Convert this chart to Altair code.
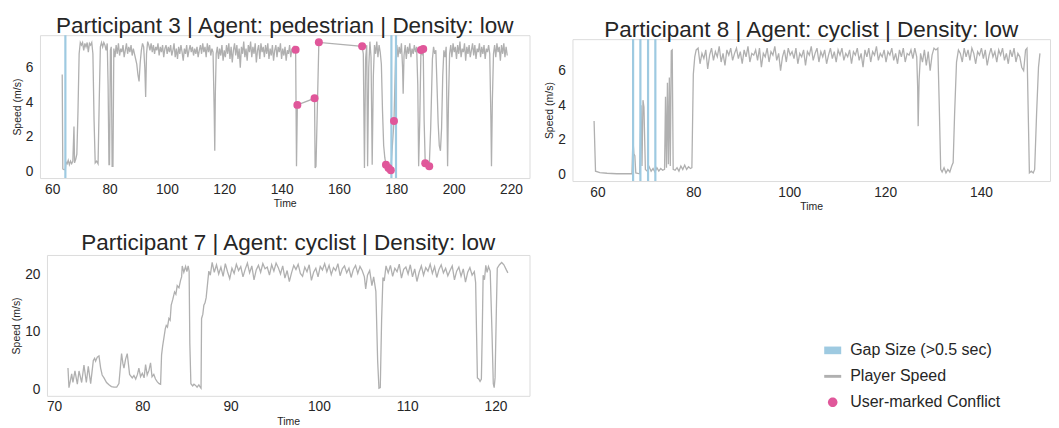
import altair as alt
import pandas as pd

FONT = "Liberation Sans"
TEXT_COLOR = "#262626"
LINE_COLOR = "#b0b0b0"
GAP_COLOR = "#9ecae1"
CONFLICT_COLOR = "#e0579a"
FRAME_COLOR = "#dcdcdc"

# ---------------- Participant 3 | pedestrian ----------------
# explicit (time, speed) samples and regularly sampled runs {t0, dt, v}
p3_pieces = [
    [(63.5, 5.6), (63.7, 0.15), (64.2, 0.1), (64.6, 0.15), (64.8, 0.55), (65.2, 0.45), (65.6, 0.65),
     (66.0, 0.4), (66.4, 0.6), (66.8, 0.45), (67.2, 0.6), (67.6, 2.6), (67.8, 0.5), (68.2, 0.7),
     (68.6, 1.0), (69.0, 3.5), (69.4, 6.8), (69.8, 7.45)],
    {"t0": 70.2, "dt": 0.4, "v": [7.3, 7.45, 7.0, 7.4, 7.2, 7.45, 6.9, 7.4, 7.3, 7.45, 6.8]},
    [(74.6, 3.0), (75.0, 0.5), (75.5, 0.6), (76.0, 0.45), (76.4, 4.0), (76.8, 7.2)],
    {"t0": 77.2, "dt": 0.4, "v": [7.45, 7.2, 7.45, 7.3, 7.0, 7.4]},
    [(79.5, 5.0), (79.8, 0.4), (80.0, 0.4), (80.3, 7.0), (80.6, 7.2), (80.9, 0.3), (81.2, 0.3), (81.5, 7.1)],
    {"t0": 81.9, "dt": 0.4, "v": [6.6, 7.3, 6.8, 7.4, 6.7, 7.1, 6.9, 7.3, 6.6, 7.0, 7.4, 6.8, 7.2, 6.9,
                                  7.3, 6.7, 7.1, 6.8, 6.5, 6.2, 5.6, 5.2, 6.3, 7.0, 7.4, 7.2, 6.0]},
    [(92.6, 4.3), (92.9, 6.8)],
    {"t0": 93.3, "dt": 0.4, "v": [7.5, 7.3, 7.0, 7.4, 6.9, 7.3, 6.8, 7.2, 7.0, 7.4,
                                  6.7, 7.2, 6.9, 7.3, 6.6, 7.1, 7.3, 6.8, 7.2, 6.9,
                                  7.3, 6.7, 7.0, 7.4, 6.6, 7.1, 6.5, 7.2, 6.8, 7.3,
                                  6.9, 6.4, 7.1, 6.8, 7.3, 6.6, 7.0, 7.3, 6.9, 7.2,
                                  6.7, 7.1, 6.8, 7.2, 6.6, 7.0, 7.3, 6.8, 7.4, 6.9,
                                  7.2, 6.6, 7.4, 6.9, 7.3, 6.7, 7.1, 6.9]},
    [(116.5, 3.5), (116.7, 1.2), (116.9, 4.5)],
    {"t0": 117.2, "dt": 0.4, "v": [6.8, 7.2, 6.5, 7.1, 6.7, 7.3, 6.4, 7.0, 6.6, 7.3,
                                   6.8, 7.4, 6.5, 7.2, 6.3, 7.0, 7.4, 6.7, 7.3, 6.5,
                                   7.1, 6.0, 7.2, 6.8, 7.5, 6.6, 7.1, 6.4, 7.3, 6.9,
                                   7.5, 6.6, 7.2, 6.8, 7.4, 6.3, 7.0, 7.3, 6.5, 7.4,
                                   6.9, 7.2, 6.6, 7.3, 6.8, 7.4, 6.5, 7.1, 6.7, 7.3,
                                   6.4, 7.0, 7.3, 6.6, 7.2, 6.9, 7.4, 6.5, 7.1, 6.7,
                                   7.2, 6.4, 7.0, 6.8, 7.3, 6.6, 7.1, 6.9, 7.2]},
    [(144.9, 7.04), (145.2, 0.3), (145.5, 3.85), (151.5, 4.23), (151.7, 0.2), (152.0, 0.3),
     (153.0, 7.46), (168.1, 7.23), (168.5, 6.8), (168.9, 0.2), (169.3, 6.5), (169.7, 7.3),
     (170.0, 0.3), (170.4, 6.0), (170.8, 7.5), (171.2, 6.6), (171.6, 0.4), (172.0, 5.5),
     (172.4, 7.3), (172.8, 6.8), (173.2, 7.5), (173.6, 6.6), (174.0, 7.3), (174.4, 6.9),
     (174.8, 6.2), (175.2, 3.5), (175.6, 1.5), (176.0, 0.8), (176.4, 0.39), (177.3, 0.2),
     (178.1, 0.08), (179.2, 2.92), (179.8, 6.9)],
    {"t0": 180.2, "dt": 0.4, "v": [7.3, 6.6, 7.2, 6.8, 7.4, 6.0]},
    [(182.4, 4.5), (182.7, 6.7)],
    {"t0": 183.1, "dt": 0.4, "v": [7.3, 6.5, 7.2, 6.8, 7.4, 6.6, 7.1, 6.8, 7.3, 6.9, 7.2]},
    [(187.5, 5.0), (187.8, 0.3), (188.2, 3.0), (188.6, 7.02), (189.0, 6.8), (189.4, 7.08),
     (189.7, 3.0), (190.1, 0.48), (190.8, 0.35), (191.5, 0.31), (192.0, 2.5), (192.6, 6.5),
     (193.0, 7.2), (193.4, 6.8), (193.8, 7.0), (194.2, 5.0), (194.6, 2.8), (195.0, 1.5),
     (195.4, 1.2), (195.8, 2.5), (196.2, 5.5), (196.6, 7.0), (197.0, 6.6), (197.4, 7.2),
     (197.7, 3.0), (197.9, 0.3), (198.2, 4.0), (198.6, 6.8)],
    {"t0": 199.0, "dt": 0.4, "v": [7.3, 6.6, 7.4, 6.9, 7.2, 6.5, 7.3, 6.8, 7.5, 6.6,
                                   7.1, 6.9, 7.4, 6.4, 7.2, 6.8, 7.3, 6.6, 7.0, 7.4,
                                   6.7, 7.3, 6.5, 7.1, 6.9, 7.4, 6.6, 7.2, 6.8, 7.3,
                                   6.5, 7.1, 6.9, 7.3, 6.8]},
    [(213.0, 3.0), (213.2, 0.3), (213.5, 4.0), (213.9, 6.8)],
    {"t0": 214.3, "dt": 0.4, "v": [7.3, 6.6, 7.4, 6.9, 7.2, 6.4, 7.3, 6.8, 7.4, 6.6, 7.2, 6.7]},
]
p3_gap_times = [64.6, 178.3, 179.9]
p3_conflict_times = [144.9, 145.5, 151.5, 153.0, 168.1, 176.4, 177.3, 178.1, 179.2, 188.6, 189.4, 190.1, 191.5]
p3_conflict_speeds = [7.04, 3.85, 4.23, 7.46, 7.23, 0.39, 0.2, 0.08, 2.92, 7.02, 7.08, 0.48, 0.31]

# ---------------- Participant 8 | cyclist ----------------
p8_pieces = [
    [(59.3, 3.1), (59.6, 0.2), (60.5, 0.12), (62.0, 0.08), (64.0, 0.05), (66.0, 0.05), (67.2, 0.05),
     (67.4, 2.05), (67.6, 1.2), (67.8, 1.1), (68.0, 0.1), (68.8, 0.05), (69.1, 4.0), (69.3, 0.5),
     (69.5, 4.3), (69.7, 3.9), (70.0, 0.3), (70.4, 0.2), (70.8, 0.45), (71.2, 0.2), (71.6, 0.35),
     (72.0, 0.15), (72.4, 0.4), (72.8, 0.2), (73.2, 0.35), (73.6, 0.25), (74.0, 0.3), (74.2, 4.5),
     (74.4, 0.4), (74.6, 5.3), (74.8, 0.6), (75.0, 5.6), (75.2, 0.5), (75.4, 7.15), (75.6, 7.2),
     (75.8, 0.3), (76.2, 0.25), (76.6, 0.4), (77.0, 0.2), (77.4, 0.5), (77.8, 0.3), (78.2, 0.55),
     (78.6, 0.3), (79.0, 0.45), (79.4, 0.35), (79.7, 0.4), (80.0, 5.8), (80.3, 6.8), (80.6, 7.2)],
    {"t0": 81.0, "dt": 0.4, "v": [7.3, 6.4, 7.0, 6.7, 7.2, 6.1, 6.9, 7.3, 6.6, 7.1,
                                  6.8, 7.4, 6.5, 7.0, 6.3, 7.2, 6.9, 7.3, 6.6, 7.0,
                                  7.3, 6.7, 7.1, 6.4, 7.2, 6.8, 7.4, 6.5, 7.0, 6.9,
                                  7.2, 6.6, 7.3, 6.2, 7.0, 6.8, 7.3, 6.5, 7.1, 6.9,
                                  7.4, 6.6, 7.0, 6.0, 6.8, 7.2, 6.5, 7.3, 6.9, 7.1,
                                  6.7, 7.3, 6.4, 7.0, 6.8, 7.2, 6.3, 7.1, 6.9, 7.4,
                                  6.6, 7.0, 7.3, 6.5, 7.1, 6.8, 7.2, 6.4, 6.9, 7.3,
                                  6.7, 7.1, 6.5, 7.2, 6.9, 7.3, 6.6, 7.0, 6.8, 7.2,
                                  6.4, 7.1, 6.9, 7.3, 6.6, 7.0, 6.2, 7.2, 6.8, 7.3,
                                  6.5, 7.1, 6.9, 7.4, 6.6, 7.0, 6.8, 7.2, 6.5, 7.1,
                                  6.9, 7.3, 6.6, 7.0, 6.4, 7.2, 6.8, 7.3, 6.5, 7.0,
                                  6.9, 7.2, 6.7, 7.3, 6.8]},
    [(126.8, 5.0), (126.9, 2.8), (127.1, 5.5), (127.4, 7.0), (127.8, 6.5), (128.2, 7.2), (128.6, 6.3),
     (129.0, 7.1), (129.4, 6.0), (129.8, 6.9), (130.2, 7.3), (130.6, 7.2), (131.0, 7.3), (131.3, 4.0),
     (131.6, 0.3), (131.9, 0.15), (132.3, 0.4), (132.7, 0.1), (133.1, 0.3), (133.5, 0.15), (133.9, 0.5),
     (134.2, 0.7), (134.5, 3.5), (134.9, 6.5), (135.3, 7.2)],
    {"t0": 135.7, "dt": 0.4, "v": [7.0, 6.5, 7.3, 6.8, 7.2, 6.6, 7.3, 7.0, 6.4, 7.1,
                                   6.9, 7.3, 6.7, 7.2, 6.3, 6.9, 7.3, 6.8, 7.1, 6.5,
                                   7.2, 6.9, 7.3, 6.6, 7.0, 6.4, 7.2, 6.8, 7.3, 6.5,
                                   7.0, 6.8, 6.2, 6.0, 7.2]},
    [(149.6, 7.3), (149.9, 3.0), (150.1, 0.1), (150.5, 0.2), (150.9, 0.1), (151.2, 0.3),
     (151.6, 3.5), (152.0, 6.2), (152.3, 7.0)],
]
p8_gap_times = [67.44, 68.96, 70.56, 72.08]

# ---------------- Participant 7 | cyclist ----------------
p7_pieces = [
    [(71.58, 3.7), (71.69, 0.3), (71.85, 1.5), (72.0, 2.7), (72.14, 1.2), (72.37, 3.2), (72.64, 0.9),
     (72.83, 3.2), (73.13, 1.2), (73.39, 4.2), (73.66, 1.2), (73.88, 4.0), (74.15, 1.0), (74.45, 5.0),
     (74.6, 5.4), (74.71, 4.9), (74.9, 5.6), (75.09, 5.8), (75.28, 3.7), (75.45, 2.5), (75.66, 2.0),
     (75.95, 1.2), (76.22, 0.8), (76.5, 0.5), (76.79, 0.4), (77.1, 0.4), (77.35, 1.0), (77.65, 6.2),
     (77.8, 4.5), (77.92, 3.7), (78.1, 5.2), (78.29, 6.2), (78.56, 2.6), (78.86, 2.0), (79.05, 2.4),
     (79.25, 1.8), (79.45, 2.6), (79.61, 3.7), (79.8, 2.2), (80.0, 2.8), (80.2, 2.0), (80.37, 4.3),
     (80.55, 2.5), (80.75, 3.3), (80.93, 4.6), (81.1, 2.2), (81.3, 2.6), (81.49, 1.8), (81.7, 1.3),
     (81.9, 1.0), (82.07, 0.9), (82.18, 6.0), (82.3, 7.5), (82.44, 8.9), (82.6, 10.5), (82.71, 11.1),
     (82.85, 10.8), (83.01, 12.3), (83.15, 12.0), (83.27, 14.6), (83.45, 15.6), (83.65, 16.9),
     (83.8, 16.5), (83.95, 18.0), (84.15, 17.6), (84.33, 18.9), (84.45, 19.5), (84.52, 21.4),
     (84.7, 20.3), (84.9, 21.3), (85.05, 20.4), (85.19, 21.4), (85.3, 20.5), (85.38, 8.0),
     (85.5, 1.0), (85.7, 0.6), (85.85, 0.9), (86.03, 0.7), (86.2, 0.4), (86.4, 0.8), (86.59, 0.3),
     (86.65, 0.2), (86.71, 12.3), (86.85, 13.0), (86.97, 14.6), (87.1, 15.0), (87.23, 15.9),
     (87.4, 18.5), (87.53, 20.5), (87.7, 19.8), (87.91, 22.0)],
    {"t0": 88.15, "dt": 0.25, "v": [20.3, 21.6, 20.0, 21.2, 19.6, 21.8, 20.4, 19.2, 21.0, 20.1,
                                    21.7, 20.6, 21.3, 19.5, 20.8, 21.9, 20.2, 21.4, 19.0, 20.7,
                                    21.5, 20.3, 21.8, 20.9, 21.2, 19.8, 21.6, 20.5, 21.9, 21.1,
                                    20.0, 21.4, 19.3, 20.6, 18.7, 20.2, 21.5, 20.8, 21.7, 20.1,
                                    19.6, 21.2, 20.4, 21.6, 18.9, 20.3, 21.0, 19.5, 21.3, 20.7,
                                    21.8, 20.4, 21.5, 19.9, 21.1, 20.6, 21.8, 19.7, 20.9, 21.4,
                                    20.2, 21.0, 19.4, 20.8, 21.5, 20.1, 21.3, 20.6]},
    [(105.15, 19.5), (105.3, 17.4), (105.5, 19.8), (105.75, 20.6), (106.0, 18.0), (106.2, 19.5),
     (106.45, 17.0), (106.65, 5.0), (106.8, 0.2), (106.95, 0.3), (107.1, 12.0), (107.25, 19.4),
     (107.4, 18.8), (107.6, 21.4)],
    {"t0": 107.85, "dt": 0.25, "v": [20.2, 21.5, 19.6, 21.0, 20.4, 21.7, 19.3, 20.8, 21.2, 20.0,
                                     21.6, 19.5, 20.9, 18.7, 20.3, 21.4, 19.8, 21.1, 20.5, 21.7,
                                     20.1, 21.3, 19.4, 20.8, 21.6, 20.2, 21.0, 19.7, 20.6, 21.4,
                                     19.0, 20.5, 21.2, 19.6, 20.9, 18.6, 20.3, 21.1, 19.8, 20.4]},
    [(117.75, 18.5), (117.85, 10.0), (117.95, 2.0), (118.1, 1.8), (118.25, 1.4), (118.4, 1.8),
     (118.5, 10.0), (118.6, 19.8), (118.75, 19.0), (118.9, 21.5), (119.05, 20.3), (119.2, 21.3),
     (119.4, 20.5), (119.6, 10.0), (119.75, 1.0), (119.85, 0.3), (119.95, 2.0), (120.1, 14.0),
     (120.2, 21.0), (120.45, 21.6), (120.7, 22.0), (120.95, 21.6), (121.2, 20.8), (121.4, 20.2)],
]

LEGEND_LABELS = ["Gap Size (>0.5 sec)", "Player Speed", "User-marked Conflict"]
LEGEND_COLORS = [GAP_COLOR, LINE_COLOR, CONFLICT_COLOR]
LEGEND_SHAPES = [
    "M-1,-0.45H1V0.45H-1Z",
    "M-1,-0.17H1V0.17H-1Z",
    "M-0.56,0A0.56,0.56,0,1,1,0.56,0A0.56,0.56,0,1,1,-0.56,0Z",
]


def build_series(pieces):
    ts, vs = [], []
    for piece in pieces:
        if isinstance(piece, dict):
            for i, val in enumerate(piece["v"]):
                ts.append(round(piece["t0"] + i * piece["dt"], 3))
                vs.append(val)
        else:
            for t, val in piece:
                ts.append(t)
                vs.append(val)
    return pd.DataFrame({"t": ts, "speed": vs})


def panel(pieces, gaps, c_times, c_speeds, title, xdom, ydom, xticks, yticks, w, h,
          extra=None, title_offset=-3):
    df = build_series(pieces)
    xs = alt.Scale(domain=xdom, nice=False, zero=False)
    ys = alt.Scale(domain=ydom, nice=False, zero=False)
    x = alt.X("t:Q", scale=xs, axis=alt.Axis(values=xticks, title="Time", format="d"))
    y = alt.Y("speed:Q", scale=ys, axis=alt.Axis(values=yticks, title="Speed (m/s)", format="d"))
    layers = [alt.Chart(df).mark_line(color=LINE_COLOR, strokeWidth=1.3).encode(x=x, y=y)]
    if gaps:
        layers.append(alt.Chart(pd.DataFrame({"t": gaps})).mark_rule(color=GAP_COLOR, strokeWidth=2.2)
                      .encode(x=alt.X("t:Q")))
    if c_times:
        layers.append(alt.Chart(pd.DataFrame({"t": c_times, "speed": c_speeds}))
                      .mark_circle(color=CONFLICT_COLOR, size=64, opacity=1)
                      .encode(x="t:Q", y="speed:Q"))
    if extra is not None:
        layers.append(extra)
    return alt.layer(*layers).properties(
        width=w, height=h,
        title=alt.TitleParams(title, fontSize=22.5, font=FONT, fontWeight="normal", color=TEXT_COLOR,
                              anchor="middle", offset=title_offset),
    )


def spacer(w, h):
    # invisible, empty cell used only to steer the concat layout
    return alt.Chart(pd.DataFrame({"z": [0]})).mark_point(size=0, opacity=0).encode(
        x=alt.value(0), y=alt.value(0)
    ).properties(width=w, height=h, view=alt.ViewBackground(stroke="transparent"))


# legend-only layer: its points sit outside the x domain and are clipped away
legend_layer = alt.Chart(pd.DataFrame({"label": LEGEND_LABELS, "t": [0.0] * 3, "speed": [10.0] * 3})).mark_point(
    filled=True, opacity=1, clip=True
).encode(
    x="t:Q", y="speed:Q",
    color=alt.Color("label:N", scale=alt.Scale(domain=LEGEND_LABELS, range=LEGEND_COLORS),
                    legend=alt.Legend(title=None, orient="none", legendX=778, legendY=87,
                                      symbolSize=289, symbolStrokeWidth=0,
                                      labelFontSize=16, labelFont=FONT, labelColor=TEXT_COLOR,
                                      labelOffset=9, rowPadding=9, padding=0)),
    shape=alt.Shape("label:N", scale=alt.Scale(domain=LEGEND_LABELS, range=LEGEND_SHAPES)),
)

p3 = panel(p3_pieces, p3_gap_times, p3_conflict_times, p3_conflict_speeds,
           "Participant 3 | Agent: pedestrian | Density: low",
           [55.74, 226.46], [-0.375, 7.875], [60, 80, 100, 120, 140, 160, 180, 200, 220], [0, 2, 4, 6], 490, 143)
p8 = panel(p8_pieces, p8_gap_times, [], [],
           "Participant 8 | Agent: cyclist | Density: low",
           [54.79, 154.4], [-0.37, 7.82], [60, 80, 100, 120, 140], [0, 2, 4, 6], 478, 142)
p7 = panel(p7_pieces, [], [], [],
           "Participant 7 | Agent: cyclist | Density: low",
           [69.2, 123.85], [-1.11, 23.3], [70, 80, 90, 100, 110, 120], [0, 5, 10, 15, 20], 483, 141,
           extra=legend_layer, title_offset=0)

p3col = alt.vconcat(spacer(1, 1), p3, spacing=0)
p8col = alt.vconcat(spacer(1, 5), p8, spacing=0)
row1 = alt.hconcat(p3col, p8col, spacing=13)

chart = alt.concat(
    spacer(1, 1), row1, spacer(1, 1), p7,
    columns=2, align="none", spacing={"row": 19, "column": 0},
).properties(
    padding={"left": 0, "top": 2, "right": 0, "bottom": 0}
).resolve_legend(
    color="independent", shape="independent"
).configure_view(
    stroke=FRAME_COLOR, strokeWidth=1
).configure_axis(
    domain=False, ticks=False, grid=False,
    labelFont=FONT, labelFontSize=13.75, labelColor=TEXT_COLOR,
    titleFont=FONT, titleFontSize=10.5, titleFontWeight="normal", titleColor=TEXT_COLOR,
).configure_axisX(
    labelPadding=4, titlePadding=3,
).configure_axisY(
    labelPadding=7, titlePadding=3,
)

chart.save("out.html", embed_options={"renderer": "svg", "actions": False})
